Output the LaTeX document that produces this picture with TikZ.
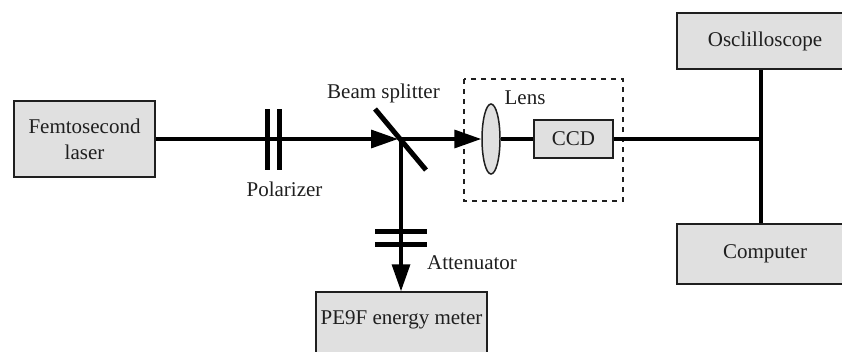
\documentclass[tikz,border=0pt]{standalone}
\usepackage{fontspec}
\setmainfont{Liberation Serif}
\usetikzlibrary{arrows.meta,shapes.geometric}
\definecolor{boxgray}{gray}{0.88}
\definecolor{ink}{gray}{0.12}
\tikzset{
  x=1pt,y=-1pt,
  box/.style={draw=ink,line width=1.5pt,fill=boxgray,text=ink,font=\fontsize{21}{26}\selectfont,align=center,inner sep=0pt,anchor=center},
  lab/.style={text=ink,font=\fontsize{21}{26}\selectfont,inner sep=0pt},
  beam/.style={draw=black,line width=3.4pt},
  optic/.style={draw=black,line width=5pt},
  ray/.style={beam,-{Triangle[length=27pt,width=18pt]}},
  dashbox/.style={draw=ink,line width=1.5pt,dash pattern=on 5pt off 5pt},
  lens/.style={draw=ink,line width=1.5pt,fill=boxgray,ellipse,minimum width=18pt,minimum height=70pt,inner sep=0pt}
}
\begin{document}
\begin{tikzpicture}
\useasboundingbox (0,0) rectangle (842,351);
\clip (0,0) rectangle (842,351);
\draw[dashbox] (464,79) rectangle (623,201);
% boxes
\node[box,minimum width=141pt,minimum height=76pt] (laser) at (84.5,139) {Femtosecond\\laser};
\node[box,minimum width=176pt,minimum height=56pt] (osc) at (765,41) {Osclilloscope};
\node[box,minimum width=176pt,minimum height=60pt] (comp) at (765,254) {Computer};
\node[box,minimum width=171pt,minimum height=90pt] (meter) at (401.5,337) {};
\node[lab] (meterlab) at (401.5,320) {PE9F energy meter};
\node[box,minimum width=79pt,minimum height=38pt] (ccd) at (573.5,139) {CCD};
\node[lens] (lensn) at (491,139) {};
% junction points
\coordinate (split) at (401,139);
\coordinate (hit) at (398,139);
\coordinate (pa) at (267,109); \coordinate (pb) at (267,170);
\coordinate (qa) at (279,109); \coordinate (qb) at (279,170);
\coordinate (sa) at (375,109); \coordinate (sb) at (426,170);
\coordinate (aa) at (375,231); \coordinate (ab) at (427,231);
\coordinate (ba) at (375,244); \coordinate (bb) at (427,244);
\coordinate (bus) at (761,139);
% beams
\draw[ray] (laser.east) -- (hit);
\draw[ray] (split) -- (lensn.west);
\draw[beam] (lensn.east) -- (ccd.west);
\draw[beam] (ccd.east) -- (bus);
\draw[ray] (split) -- (split |- meter.north);
\draw[beam] (bus |- osc.south) -- (bus |- comp.north);
% optics
\draw[optic] (pa) -- (pb);
\draw[optic] (qa) -- (qb);
\draw[optic] (sa) -- (sb);
\draw[optic] (aa) -- (ab);
\draw[optic] (ba) -- (bb);
% labels
\node[lab] (l1) at (284.5,189) {Polarizer};
\node[lab] (l2) at (383.5,93) {Beam splitter};
\node[lab] (l3) at (472,263) {Attenuator};
\node[lab] (l4) at (525,98) {Lens};
\end{tikzpicture}
\end{document}
